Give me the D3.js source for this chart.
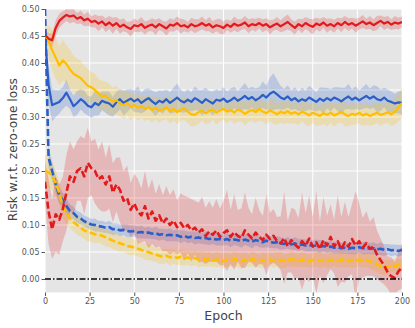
<!DOCTYPE html>
<html>
<head>
<meta charset="utf-8">
<script src="https://cdn.jsdelivr.net/npm/d3@7"></script>
<style>
  body { margin: 0; background: #fff; }
  text { font-family: "DejaVu Sans", sans-serif; }
  .tick text { fill: #555; font-size: 8px; }
  .tick line { stroke: #555; }
  .domain { display: none; }
</style>
</head>
<body>
<div id="chart"></div>
<script>
// epochs 0, 2, 4 ... 200
var epochs = d3.range(0, 201, 2);
var xTicks = [0, 25, 50, 75, 100, 125, 150, 175, 200];
var yTicks = [0, 0.05, 0.1, 0.15, 0.2, 0.25, 0.3, 0.35, 0.4, 0.45, 0.5];

// red solid
var rsMean = [0.452,0.445,0.442,0.465,0.478,0.484,0.489,0.486,0.488,0.482,
  0.485,0.479,0.482,0.476,0.478,0.473,0.477,0.470,0.475,0.469,
  0.474,0.467,0.471,0.466,0.463,0.470,0.468,0.472,0.465,0.469,
  0.471,0.466,0.472,0.468,0.464,0.471,0.469,0.474,0.468,0.470,
  0.466,0.472,0.468,0.470,0.474,0.469,0.472,0.466,0.470,0.468,
  0.465,0.471,0.467,0.473,0.469,0.471,0.475,0.468,0.472,0.470,
  0.474,0.469,0.472,0.466,0.470,0.473,0.468,0.472,0.476,0.470,
  0.465,0.472,0.468,0.474,0.470,0.467,0.473,0.470,0.475,0.469,
  0.472,0.468,0.474,0.470,0.476,0.471,0.474,0.469,0.473,0.477,
  0.472,0.475,0.470,0.474,0.478,0.473,0.476,0.471,0.475,0.473,
  0.476];
var rsStd = [0.008,0.010,0.012,0.014,0.013,0.012,0.011,0.013,0.012,0.010,
  0.012,0.011,0.013,0.010,0.012,0.014,0.011,0.013,0.012,0.015,
  0.011,0.013,0.012,0.010,0.014,0.012,0.011,0.013,0.012,0.010,
  0.012,0.014,0.011,0.010,0.013,0.012,0.011,0.012,0.014,0.011,
  0.010,0.012,0.013,0.011,0.012,0.010,0.013,0.012,0.011,0.014,
  0.012,0.010,0.011,0.013,0.012,0.010,0.012,0.013,0.011,0.012,
  0.010,0.012,0.011,0.013,0.010,0.012,0.011,0.013,0.014,0.011,
  0.012,0.010,0.013,0.011,0.012,0.014,0.011,0.012,0.010,0.013,
  0.011,0.012,0.010,0.013,0.011,0.012,0.010,0.013,0.011,0.012,
  0.010,0.012,0.011,0.013,0.010,0.012,0.011,0.010,0.012,0.011,
  0.010];

// blue solid
var bsMean = [0.450,0.360,0.322,0.325,0.328,0.335,0.345,0.333,0.320,0.326,
  0.333,0.328,0.321,0.318,0.326,0.322,0.330,0.327,0.325,0.319,
  0.327,0.333,0.326,0.330,0.334,0.329,0.333,0.326,0.331,0.335,
  0.329,0.324,0.330,0.327,0.333,0.326,0.331,0.336,0.330,0.327,
  0.332,0.328,0.335,0.331,0.326,0.333,0.329,0.325,0.332,0.330,
  0.334,0.328,0.331,0.336,0.330,0.334,0.339,0.333,0.337,0.331,
  0.335,0.341,0.336,0.343,0.347,0.342,0.336,0.333,0.338,0.331,
  0.335,0.329,0.333,0.330,0.336,0.332,0.328,0.334,0.330,0.335,
  0.331,0.336,0.333,0.329,0.334,0.338,0.332,0.336,0.331,0.335,
  0.339,0.334,0.338,0.333,0.331,0.336,0.330,0.328,0.325,0.327,
  0.326];
var bsStd = [0.030,0.035,0.030,0.025,0.022,0.020,0.024,0.018,0.020,0.022,
  0.019,0.021,0.018,0.020,0.023,0.019,0.017,0.020,0.022,0.018,
  0.020,0.019,0.023,0.021,0.018,0.020,0.024,0.019,0.021,0.018,
  0.020,0.022,0.019,0.021,0.018,0.020,0.023,0.026,0.021,0.019,
  0.020,0.018,0.022,0.019,0.024,0.021,0.019,0.022,0.020,0.018,
  0.021,0.019,0.022,0.020,0.018,0.021,0.024,0.020,0.019,0.022,
  0.020,0.025,0.022,0.030,0.034,0.027,0.022,0.019,0.021,0.018,
  0.020,0.018,0.021,0.019,0.022,0.020,0.018,0.021,0.024,0.019,
  0.021,0.019,0.022,0.025,0.020,0.023,0.019,0.021,0.018,0.020,
  0.022,0.019,0.021,0.024,0.020,0.018,0.021,0.019,0.018,0.020,
  0.022];

// yellow solid
var ysMean = [0.452,0.440,0.424,0.410,0.395,0.405,0.398,0.388,0.380,0.376,
  0.372,0.365,0.358,0.355,0.350,0.344,0.338,0.340,0.333,0.329,
  0.331,0.325,0.322,0.326,0.319,0.322,0.317,0.320,0.315,0.318,
  0.313,0.317,0.312,0.314,0.318,0.311,0.315,0.309,0.313,0.316,
  0.310,0.305,0.304,0.309,0.312,0.307,0.311,0.314,0.308,0.312,
  0.315,0.310,0.313,0.308,0.314,0.311,0.306,0.310,0.313,0.309,
  0.315,0.310,0.307,0.312,0.309,0.305,0.310,0.307,0.311,0.306,
  0.309,0.305,0.310,0.307,0.303,0.308,0.305,0.302,0.307,0.304,
  0.308,0.303,0.306,0.310,0.305,0.302,0.306,0.304,0.308,0.303,
  0.306,0.302,0.305,0.308,0.304,0.306,0.309,0.305,0.310,0.318,
  0.326];
var ysStd = [0.010,0.030,0.038,0.040,0.036,0.038,0.035,0.037,0.034,0.032,
  0.033,0.030,0.031,0.028,0.030,0.027,0.029,0.026,0.028,0.025,
  0.027,0.024,0.026,0.023,0.025,0.022,0.024,0.021,0.023,0.022,
  0.024,0.021,0.023,0.020,0.022,0.024,0.021,0.023,0.020,0.022,
  0.021,0.023,0.020,0.022,0.019,0.021,0.023,0.020,0.022,0.021,
  0.020,0.022,0.019,0.021,0.023,0.020,0.022,0.019,0.021,0.020,
  0.022,0.019,0.021,0.020,0.023,0.019,0.021,0.020,0.022,0.019,
  0.021,0.020,0.018,0.022,0.020,0.019,0.021,0.018,0.020,0.022,
  0.019,0.021,0.018,0.020,0.022,0.019,0.021,0.018,0.020,0.019,
  0.021,0.018,0.020,0.019,0.021,0.018,0.020,0.022,0.024,0.026,
  0.028];

// blue dashed
var bdMean = [0.500,0.225,0.200,0.175,0.155,0.146,0.135,0.126,0.122,0.115,
  0.112,0.107,0.104,0.101,0.100,0.098,0.097,0.095,0.096,0.092,
  0.093,0.090,0.091,0.089,0.088,0.089,0.086,0.087,0.085,0.086,
  0.084,0.085,0.082,0.083,0.081,0.082,0.080,0.081,0.078,0.080,
  0.077,0.078,0.076,0.077,0.075,0.076,0.074,0.075,0.073,0.074,
  0.072,0.074,0.071,0.073,0.072,0.070,0.073,0.071,0.069,0.072,
  0.070,0.068,0.071,0.069,0.067,0.068,0.066,0.065,0.067,0.064,
  0.066,0.063,0.064,0.062,0.063,0.061,0.062,0.060,0.061,0.059,
  0.060,0.058,0.059,0.057,0.058,0.056,0.058,0.057,0.059,0.057,
  0.058,0.056,0.057,0.055,0.056,0.054,0.055,0.053,0.054,0.052,
  0.054];
var bdStd = [0.000,0.020,0.018,0.016,0.015,0.014,0.013,0.012,0.012,0.011,
  0.011,0.010,0.011,0.010,0.012,0.010,0.011,0.010,0.012,0.011,
  0.010,0.011,0.010,0.012,0.011,0.010,0.011,0.012,0.010,0.011,
  0.010,0.012,0.011,0.010,0.011,0.012,0.010,0.011,0.012,0.010,
  0.011,0.010,0.012,0.011,0.010,0.012,0.011,0.010,0.011,0.012,
  0.010,0.011,0.012,0.010,0.011,0.012,0.010,0.011,0.012,0.010,
  0.011,0.010,0.012,0.011,0.010,0.011,0.012,0.010,0.011,0.010,
  0.012,0.011,0.010,0.011,0.012,0.010,0.011,0.012,0.010,0.011,
  0.010,0.011,0.012,0.010,0.011,0.010,0.012,0.011,0.010,0.011,
  0.012,0.010,0.011,0.010,0.012,0.011,0.010,0.011,0.010,0.011,
  0.010];

// yellow dashed
var ydMean = [0.200,0.198,0.190,0.178,0.160,0.134,0.122,0.112,0.105,0.100,
  0.095,0.090,0.087,0.085,0.083,0.082,0.080,0.077,0.074,0.071,
  0.068,0.066,0.064,0.061,0.060,0.058,0.056,0.054,0.051,0.050,
  0.047,0.045,0.043,0.041,0.043,0.040,0.042,0.039,0.041,0.038,
  0.040,0.037,0.039,0.036,0.038,0.035,0.037,0.034,0.036,0.035,
  0.033,0.036,0.034,0.037,0.035,0.033,0.036,0.034,0.037,0.035,
  0.033,0.035,0.034,0.036,0.034,0.036,0.035,0.033,0.035,0.037,
  0.035,0.034,0.036,0.035,0.033,0.035,0.036,0.034,0.035,0.033,
  0.035,0.036,0.034,0.036,0.035,0.033,0.035,0.034,0.036,0.034,
  0.035,0.033,0.031,0.028,0.024,0.021,0.022,0.025,0.024,0.026,
  0.025];
var ydStd = [0.030,0.028,0.025,0.024,0.022,0.020,0.019,0.018,0.017,0.018,
  0.017,0.016,0.018,0.016,0.017,0.015,0.016,0.017,0.015,0.016,
  0.015,0.016,0.014,0.015,0.016,0.014,0.015,0.014,0.016,0.015,
  0.014,0.013,0.015,0.014,0.013,0.015,0.014,0.013,0.015,0.014,
  0.013,0.014,0.013,0.015,0.014,0.013,0.014,0.012,0.014,0.013,
  0.014,0.013,0.012,0.014,0.013,0.015,0.013,0.012,0.014,0.013,
  0.012,0.014,0.013,0.012,0.014,0.013,0.015,0.013,0.012,0.014,
  0.013,0.012,0.014,0.013,0.012,0.014,0.013,0.015,0.012,0.013,
  0.014,0.012,0.013,0.015,0.013,0.012,0.014,0.013,0.012,0.014,
  0.013,0.014,0.015,0.016,0.015,0.014,0.013,0.012,0.013,0.012,
  0.012];

// red dashed
var rdMean = [0.180,0.125,0.092,0.120,0.110,0.130,0.160,0.190,0.180,0.200,
  0.205,0.190,0.215,0.205,0.200,0.185,0.190,0.175,0.190,0.160,
  0.175,0.165,0.145,0.150,0.128,0.140,0.125,0.118,0.135,0.112,
  0.125,0.108,0.118,0.103,0.112,0.100,0.108,0.096,0.104,0.094,
  0.100,0.090,0.095,0.086,0.092,0.080,0.088,0.082,0.090,0.078,
  0.085,0.090,0.078,0.087,0.080,0.076,0.090,0.082,0.075,0.086,
  0.078,0.072,0.082,0.074,0.080,0.070,0.066,0.076,0.060,0.072,
  0.064,0.058,0.070,0.062,0.075,0.060,0.068,0.056,0.072,0.062,
  0.078,0.060,0.070,0.055,0.068,0.060,0.074,0.062,0.070,0.058,
  0.066,0.056,0.060,0.045,0.035,0.025,0.012,0.005,0.002,0.014,
  0.022];
var rdStd = [0.040,0.060,0.055,0.070,0.065,0.060,0.070,0.065,0.060,0.055,
  0.060,0.070,0.065,0.050,0.060,0.055,0.065,0.050,0.060,0.055,
  0.050,0.060,0.055,0.060,0.050,0.055,0.060,0.050,0.065,0.055,
  0.060,0.050,0.058,0.052,0.060,0.055,0.058,0.050,0.055,0.060,
  0.052,0.058,0.050,0.055,0.060,0.052,0.056,0.050,0.058,0.052,
  0.060,0.075,0.050,0.070,0.048,0.055,0.070,0.050,0.045,0.065,
  0.050,0.045,0.075,0.048,0.050,0.045,0.050,0.085,0.048,0.060,
  0.065,0.055,0.090,0.060,0.080,0.055,0.095,0.050,0.080,0.055,
  0.060,0.050,0.085,0.060,0.075,0.055,0.065,0.100,0.070,0.055,
  0.060,0.050,0.055,0.045,0.040,0.035,0.030,0.035,0.030,0.035,
  0.040];

var red = "#e31a1c", blue = "#2b5fc7", yellow = "#ffbf00";

var series = [
  {mean: bsMean, std: bsStd, color: blue, dash: null, w: 2.2},
  {mean: ysMean, std: ysStd, color: yellow, dash: null, w: 2.2},
  {mean: rsMean, std: rsStd, color: red, dash: null, w: 2.2},
  {mean: bdMean, std: bdStd, color: blue, dash: "7,3", w: 2.6},
  {mean: ydMean, std: ydStd, color: yellow, dash: "7,3", w: 2.6},
  {mean: rdMean, std: rdStd, color: red, dash: "7,3", w: 2.6}
];

var svgWidth = 415, svgHeight = 328;
var margin = {top: 9, right: 13, bottom: 35.5, left: 45};
var width = svgWidth - margin.left - margin.right;
var height = svgHeight - margin.top - margin.bottom;

var svg = d3.select("#chart").append("svg")
  .attr("width", svgWidth)
  .attr("height", svgHeight)
  .append("g")
  .attr("transform", `translate(${margin.left},${margin.top})`);

var x = d3.scaleLinear().domain([0, 200]).range([0, width]);
var y = d3.scaleLinear().domain([-0.025, 0.5]).range([height, 0]);

svg.append("rect").attr("width", width).attr("height", height).attr("fill", "#e5e5e5");

svg.append("clipPath").attr("id", "clip")
  .append("rect").attr("width", width).attr("height", height);

// grid
svg.append("g").selectAll("line").data(xTicks).enter().append("line")
  .attr("x1", d => x(d)).attr("x2", d => x(d))
  .attr("y1", 0).attr("y2", height)
  .attr("stroke", "#fff").attr("stroke-width", 1);
svg.append("g").selectAll("line").data(yTicks).enter().append("line")
  .attr("x1", 0).attr("x2", width)
  .attr("y1", d => y(d)).attr("y2", d => y(d))
  .attr("stroke", "#fff").attr("stroke-width", 1);

var plot = svg.append("g").attr("clip-path", "url(#clip)");

var area = d3.area()
  .x((d, i) => x(epochs[i]))
  .y0(d => y(d[0] - d[1]))
  .y1(d => y(d[0] + d[1]));
var line = d3.line()
  .x((d, i) => x(epochs[i]))
  .y(d => y(d));

series.forEach(function(s) {
  var pts = s.mean.map((m, i) => [m, s.std[i]]);
  plot.append("path").datum(pts)
    .attr("d", area)
    .attr("fill", s.color)
    .attr("fill-opacity", 0.22);
});

series.forEach(function(s) {
  plot.append("path").datum(s.mean)
    .attr("d", line)
    .attr("fill", "none")
    .attr("stroke", s.color)
    .attr("stroke-width", s.w)
    .attr("stroke-dasharray", s.dash)
    .attr("stroke-linejoin", "round");
});

// zero reference line
plot.append("line")
  .attr("x1", 0).attr("x2", width)
  .attr("y1", y(0)).attr("y2", y(0))
  .attr("stroke", "#000").attr("stroke-width", 1.4)
  .attr("stroke-dasharray", "6,2,1.5,2");

// axes
svg.append("g")
  .attr("transform", `translate(0,${height})`)
  .call(d3.axisBottom(x).tickValues(xTicks).tickSize(3.5).tickPadding(2).tickFormat(d3.format("d")));
svg.append("g")
  .call(d3.axisLeft(y).tickValues(yTicks).tickSize(3.5).tickPadding(2).tickFormat(d3.format(".2f")));

svg.append("text")
  .attr("x", width / 2).attr("y", height + 27)
  .attr("text-anchor", "middle")
  .attr("font-size", "12.5px")
  .attr("fill", "#444")
  .text("Epoch");

svg.append("text")
  .attr("transform", "rotate(-90)")
  .attr("x", -height / 2 + 1).attr("y", -margin.left + 17)
  .attr("text-anchor", "middle")
  .attr("font-size", "12.2px")
  .attr("fill", "#444")
  .text("Risk w.r.t. zero-one loss");
</script>
</body>
</html>
